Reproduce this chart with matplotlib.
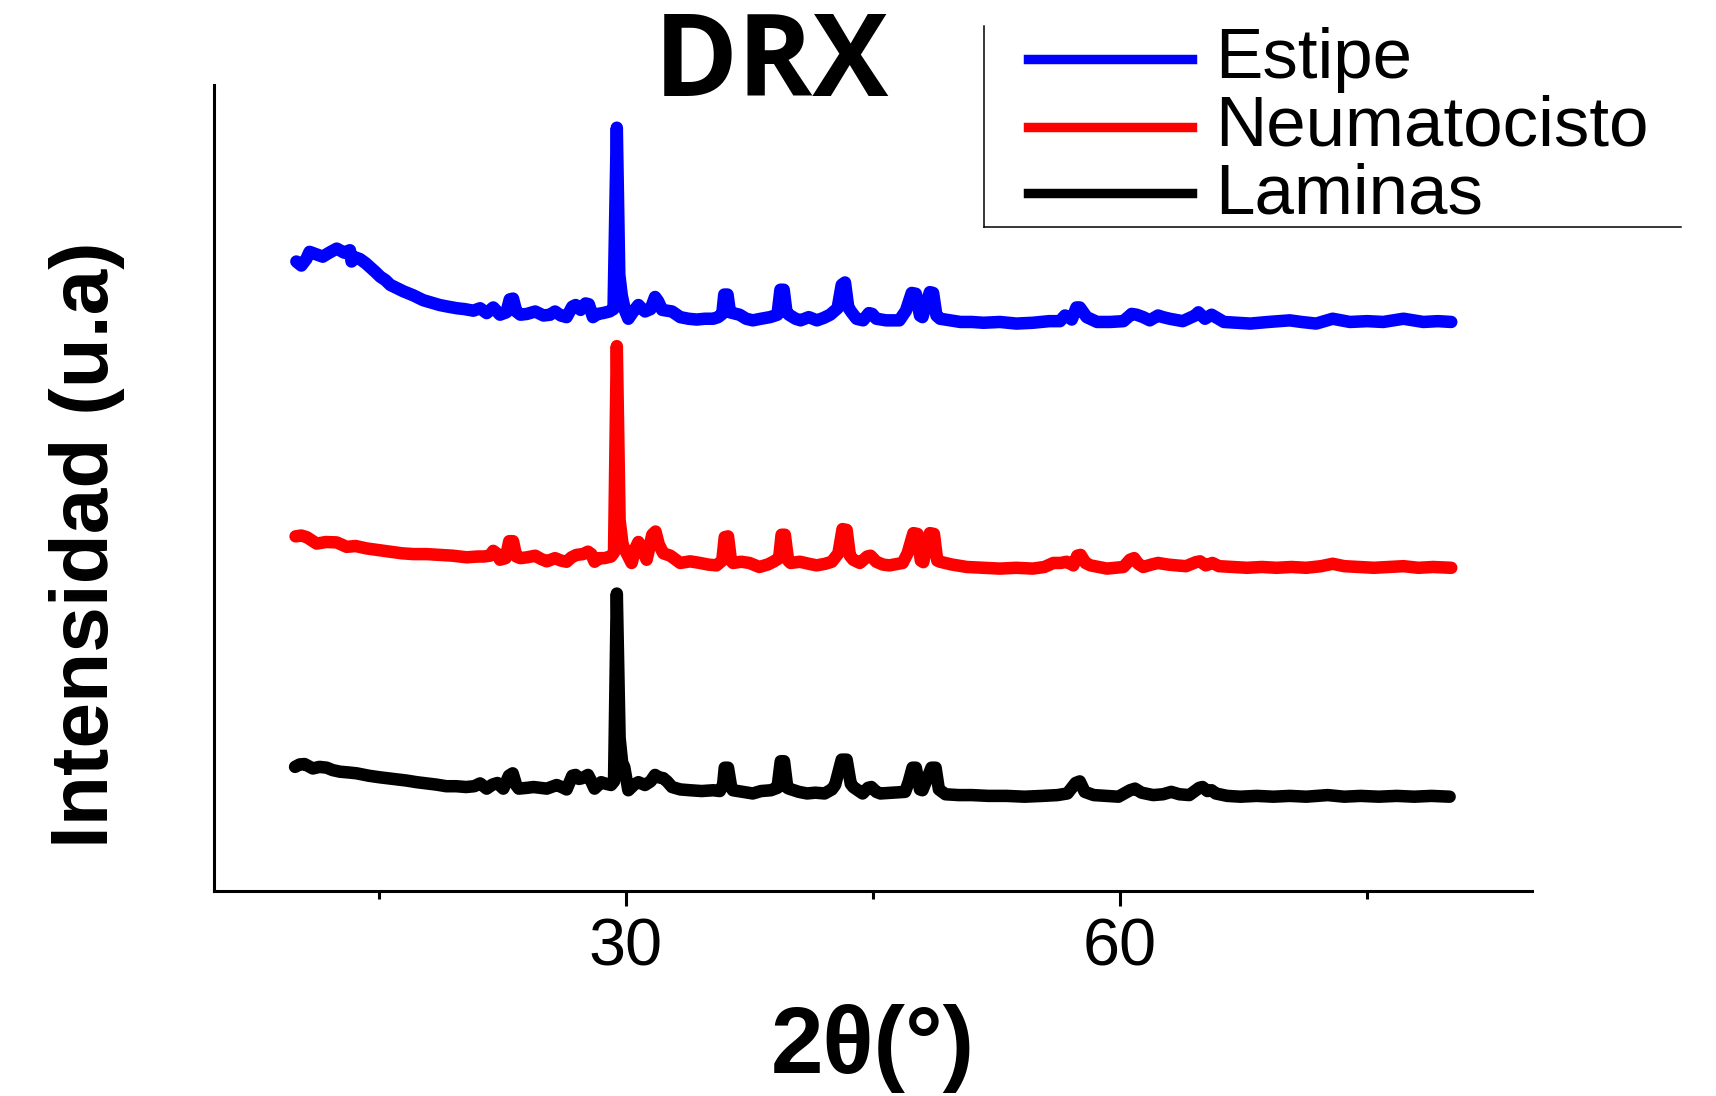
import matplotlib
matplotlib.use("Agg")
import matplotlib.pyplot as plt
from matplotlib.lines import Line2D

plt.rcParams['font.family'] = ['Liberation Sans', 'DejaVu Sans']

title = "DRX"
x_label = "2θ(°)"
y_label = "Intensidad (u.a)"
labels = ["Estipe", "Neumatocisto", "Laminas"]
colors = ["#0000ff", "#ff0000", "#000000"]
major_ticks = [30, 60]
minor_ticks = [15, 45, 75]

estipe = [
    (10.0, 78.1), (10.3, 77.6), (10.6, 78.4), (10.8, 79.3), (11.2, 79.0), (11.6, 78.7), (12.0, 79.2),
    (12.45, 79.7), (12.9, 79.2), (13.25, 79.5), (13.35, 78.1), (13.6, 78.6), (13.86, 78.4), (14.2, 77.9),
    (14.47, 77.4), (14.8, 76.8), (15.1, 76.2), (15.4, 75.8), (15.7, 75.2), (16.1, 74.8), (16.5, 74.4),
    (17.1, 73.9), (17.7, 73.3), (18.2, 73.0), (18.7, 72.7), (19.2, 72.5), (19.75, 72.3), (20.2, 72.2),
    (20.74, 72.0), (21.15, 72.3), (21.55, 71.7), (21.95, 72.4), (22.36, 71.5), (22.75, 71.8), (22.95, 73.4),
    (23.15, 73.5), (23.35, 71.9), (23.6, 71.5), (24.0, 71.6), (24.5, 71.9), (25.0, 71.4), (25.4, 71.5),
    (25.7, 71.9), (26.05, 71.4), (26.4, 71.2), (26.75, 72.5), (26.95, 72.7), (27.25, 72.1), (27.55, 72.9),
    (27.75, 72.8), (28.0, 71.2), (28.3, 71.6), (28.6, 71.7), (29.0, 71.9), (29.25, 72.2), (29.45, 94.7),
    (29.6, 76.5), (29.75, 73.9), (29.95, 72.0), (30.15, 71.0), (30.45, 71.9), (30.76, 72.7), (30.95, 72.3),
    (31.16, 71.9), (31.5, 72.2), (31.77, 73.7), (31.95, 73.2), (32.2, 72.1), (32.5, 72.0), (32.8, 71.9),
    (33.3, 71.2), (33.8, 71.0), (34.3, 70.9), (34.8, 71.0), (35.3, 71.0), (35.6, 71.2), (35.85, 71.6),
    (35.97, 74.0), (36.17, 74.0), (36.32, 71.8), (36.5, 71.7), (36.9, 71.5), (37.3, 71.0), (37.7, 70.8),
    (38.2, 71.0), (38.75, 71.2), (39.2, 71.5), (39.38, 74.6), (39.58, 74.6), (39.75, 71.8), (39.9, 71.5),
    (40.3, 71.0), (40.6, 70.8), (41.1, 71.2), (41.6, 70.8), (42.0, 71.1), (42.4, 71.5), (42.85, 72.3),
    (43.1, 75.2), (43.3, 75.5), (43.5, 72.4), (43.7, 71.8), (44.0, 71.0), (44.4, 70.8), (44.75, 71.7),
    (44.95, 71.6), (45.2, 71.0), (45.8, 70.8), (46.6, 70.8), (47.0, 72.0), (47.35, 74.2), (47.6, 74.1),
    (47.85, 71.4), (48.0, 71.2), (48.45, 74.3), (48.65, 74.2), (48.85, 71.4), (49.07, 71.0), (49.7, 70.8),
    (50.3, 70.6), (51.0, 70.6), (51.7, 70.5), (52.7, 70.6), (53.7, 70.4), (54.7, 70.5), (55.7, 70.7),
    (56.35, 70.7), (56.65, 71.4), (56.9, 71.2), (57.06, 70.9), (57.35, 72.4), (57.55, 72.4), (57.97, 71.2),
    (58.6, 70.6), (59.4, 70.6), (60.2, 70.7), (60.7, 71.6), (61.0, 71.5), (61.4, 71.2), (61.8, 70.8),
    (62.3, 71.4), (62.6, 71.2), (63.0, 71.0), (63.8, 70.7), (64.55, 71.4), (64.75, 71.8), (65.15, 71.0),
    (65.55, 71.5), (65.8, 71.2), (66.3, 70.6), (67.1, 70.5), (67.9, 70.4), (69.0, 70.6), (70.3, 70.8),
    (71.0, 70.6), (71.9, 70.4), (72.9, 71.0), (73.95, 70.6), (75.0, 70.7), (75.97, 70.6), (77.2, 71.0),
    (78.4, 70.6), (79.3, 70.7), (80.1, 70.6),
]

neumatocisto = [
    (9.95, 44.0), (10.3, 44.1), (10.63, 43.9), (11.0, 43.4), (11.23, 43.1), (11.8, 43.3), (12.45, 43.25),
    (13.05, 42.7), (13.6, 42.8), (14.27, 42.5), (15.0, 42.3), (15.68, 42.1), (16.4, 41.9), (17.1, 41.8),
    (17.9, 41.8), (18.7, 41.7), (19.5, 41.6), (20.34, 41.4), (21.0, 41.5), (21.35, 41.5), (21.75, 41.6),
    (21.95, 42.2), (22.15, 41.9), (22.36, 41.1), (22.7, 41.3), (22.92, 43.4), (23.15, 43.4), (23.35, 41.5),
    (23.6, 41.3), (24.0, 41.4), (24.5, 41.6), (24.85, 41.2), (25.2, 40.9), (25.7, 41.3), (26.05, 41.0),
    (26.4, 40.85), (26.7, 41.4), (27.0, 41.7), (27.4, 41.8), (27.7, 42.1), (27.9, 41.8), (28.1, 40.85),
    (28.4, 41.3), (28.7, 41.3), (29.1, 41.5), (29.28, 42.0), (29.45, 67.6), (29.62, 46.0), (29.8, 43.0),
    (29.95, 42.3), (30.35, 40.7), (30.6, 42.6), (30.76, 43.3), (30.95, 42.6), (31.26, 41.1), (31.6, 44.2),
    (31.8, 44.6), (32.0, 43.0), (32.27, 41.9), (32.7, 41.6), (33.3, 40.7), (33.9, 40.9), (34.5, 40.7),
    (35.0, 40.5), (35.5, 40.4), (35.85, 41.0), (36.0, 43.9), (36.2, 44.0), (36.38, 41.0), (36.5, 40.7),
    (37.0, 40.85), (37.5, 40.7), (38.1, 40.2), (38.6, 40.5), (38.95, 40.85), (39.3, 41.3), (39.45, 44.2),
    (39.65, 44.2), (39.85, 41.0), (40.0, 40.7), (40.57, 40.85), (41.1, 40.6), (41.58, 40.4), (42.1, 40.6),
    (42.5, 40.85), (42.9, 41.9), (43.15, 44.9), (43.4, 44.8), (43.6, 41.6), (43.8, 41.1), (44.2, 40.7),
    (44.65, 41.5), (44.85, 41.6), (45.2, 40.85), (45.6, 40.5), (46.0, 40.4), (46.8, 40.7), (47.1, 41.9),
    (47.45, 44.4), (47.7, 44.3), (47.9, 41.0), (48.05, 40.8), (48.45, 44.4), (48.7, 44.3), (48.9, 41.0),
    (49.07, 40.85), (49.8, 40.5), (50.7, 40.2), (51.7, 40.1), (52.7, 40.0), (53.7, 40.1), (54.7, 40.0),
    (55.4, 40.2), (55.95, 40.7), (56.4, 40.7), (56.76, 40.85), (57.16, 40.4), (57.4, 41.6), (57.6, 41.7),
    (57.9, 40.7), (58.2, 40.4), (58.7, 40.2), (59.2, 40.0), (60.2, 40.2), (60.6, 41.1), (60.85, 41.3),
    (61.1, 40.6), (61.4, 40.2), (61.9, 40.5), (62.3, 40.7), (62.9, 40.5), (63.4, 40.4), (64.0, 40.3),
    (64.6, 40.8), (64.85, 40.9), (65.2, 40.4), (65.6, 40.7), (66.0, 40.3), (66.8, 40.2), (67.7, 40.1),
    (68.6, 40.2), (69.5, 40.1), (70.4, 40.2), (71.3, 40.1), (72.2, 40.3), (72.9, 40.6), (73.6, 40.3),
    (74.5, 40.2), (75.4, 40.1), (76.3, 40.2), (77.2, 40.3), (78.1, 40.1), (79.0, 40.2), (80.1, 40.1),
]

laminas = [
    (9.92, 15.4), (10.2, 15.7), (10.5, 15.75), (11.0, 15.2), (11.4, 15.4), (11.84, 15.3), (12.2, 15.0),
    (12.65, 14.8), (13.2, 14.7), (13.66, 14.6), (14.4, 14.3), (15.08, 14.1), (15.9, 13.9), (16.7, 13.7),
    (17.3, 13.5), (17.9, 13.35), (18.5, 13.2), (19.1, 13.0), (19.7, 13.0), (20.3, 12.9), (20.8, 13.0),
    (21.15, 13.35), (21.55, 12.7), (21.9, 13.2), (22.2, 13.4), (22.56, 12.7), (22.9, 14.3), (23.13, 14.6),
    (23.35, 13.1), (23.5, 12.7), (24.0, 12.8), (24.4, 12.9), (24.8, 12.8), (25.2, 12.7), (25.8, 13.15),
    (26.1, 12.9), (26.4, 12.6), (26.75, 14.3), (26.95, 14.4), (27.15, 13.9), (27.35, 14.0), (27.7, 14.4),
    (27.9, 13.6), (28.1, 12.7), (28.5, 13.5), (28.8, 13.3), (29.1, 13.15), (29.28, 13.6), (29.45, 36.9),
    (29.62, 19.0), (29.78, 15.8), (29.9, 15.4), (30.15, 12.5), (30.5, 13.2), (30.76, 13.5), (31.16, 13.15),
    (31.5, 13.6), (31.77, 14.4), (32.0, 14.1), (32.27, 14.0), (32.5, 13.6), (32.8, 12.9), (33.3, 12.6),
    (33.9, 12.5), (34.6, 12.4), (35.3, 12.5), (35.7, 12.4), (35.9, 13.2), (36.0, 15.3), (36.2, 15.3),
    (36.4, 12.8), (36.5, 12.5), (37.1, 12.3), (37.7, 12.1), (38.2, 12.4), (38.8, 12.5), (39.2, 12.8),
    (39.4, 16.1), (39.6, 16.1), (39.8, 12.8), (39.9, 12.7), (40.5, 12.3), (41.0, 12.1), (41.5, 12.2),
    (42.06, 12.1), (42.5, 12.6), (42.7, 13.15), (43.1, 16.3), (43.4, 16.3), (43.65, 13.3), (43.8, 12.9),
    (44.37, 12.1), (44.7, 12.8), (44.9, 12.9), (45.2, 12.3), (45.45, 12.1), (46.2, 12.2), (46.95, 12.3),
    (47.16, 13.5), (47.4, 15.3), (47.6, 15.3), (47.85, 12.6), (48.0, 12.5), (48.55, 15.3), (48.8, 15.3),
    (49.0, 12.6), (49.4, 12.0), (50.2, 11.9), (51.0, 11.9), (52.0, 11.8), (53.1, 11.8), (54.2, 11.7),
    (55.3, 11.8), (56.2, 11.9), (56.8, 12.1), (57.3, 13.4), (57.55, 13.6), (57.85, 12.3), (58.4, 11.9),
    (59.2, 11.8), (59.9, 11.7), (60.6, 12.5), (60.9, 12.7), (61.3, 12.2), (62.0, 11.9), (62.6, 12.0),
    (63.1, 12.3), (63.6, 12.0), (64.2, 11.9), (64.8, 12.8), (65.0, 12.9), (65.3, 12.4), (65.55, 12.5),
    (65.8, 12.1), (66.5, 11.8), (67.3, 11.7), (68.3, 11.8), (69.3, 11.7), (70.3, 11.8), (71.3, 11.7),
    (72.6, 11.9), (73.6, 11.7), (74.6, 11.8), (75.7, 11.7), (76.8, 11.8), (77.85, 11.7), (78.9, 11.8),
    (80.0, 11.7),
]

series = [estipe, neumatocisto, laminas]

W, H = 1716, 1096
fig = plt.figure(figsize=(W / 100, H / 100), dpi=100)
ax = fig.add_axes([214 / W, 1 - 891 / H, (1532 - 214) / W, (891 - 85) / H])

lw = 9.0
for data, col, lab in zip(series, colors, labels):
    xs = [p[0] for p in data]
    ys = [p[1] for p in data]
    ax.plot(xs, ys, color=col, lw=lw, label=lab,
            solid_joinstyle='round', solid_capstyle='round')

ax.set_xlim(5, 85)
ax.set_ylim(0, 100)
for s in ['top', 'right']:
    ax.spines[s].set_visible(False)
for s in ['left', 'bottom']:
    ax.spines[s].set_linewidth(2.2)
ax.set_yticks([])
ax.set_xticks(major_ticks)
ax.set_xticks(minor_ticks, minor=True)
ax.tick_params(axis='x', which='major', length=10.8, width=2.2, labelsize=48,
               pad=8, direction='out')
ax.tick_params(axis='x', which='minor', length=5.4, width=2.2, direction='out')

# title
fig.text(771 / W, 1 - 96 / H, title, family=['Open Sans', 'DejaVu Sans'],
         fontweight='bold', fontsize=82, ha='center', va='baseline')
# axis labels
fig.text(873 / W, 1 - 1073 / H, x_label, fontweight='bold', fontsize=68,
         ha='center', va='baseline')
fig.text(108 / W, 1 - 544.5 / H, y_label, fontweight='bold', fontsize=59,
         rotation=90, rotation_mode='anchor', ha='center', va='baseline')

# legend (drawn by hand to match the clipped frame)
line_ys = [58.7, 126.7, 193.0]
base_ys = [78.0, 146.0, 213.0]
for lab, col, ly, by in zip(labels, colors, line_ys, base_ys):
    fig.add_artist(Line2D([1028 / W, 1192 / W], [1 - ly / H, 1 - ly / H],
                          color=col, lw=6.8, transform=fig.transFigure))
    fig.text(1215 / W, 1 - by / H, lab, fontsize=51, ha='left', va='baseline')
fig.add_artist(Line2D([984 / W, 984 / W], [1 - 26 / H, 1 - 226.5 / H],
                      color='black', lw=1.1, transform=fig.transFigure))
fig.add_artist(Line2D([984 / W, 1681 / W], [1 - 226.5 / H, 1 - 226.5 / H],
                      color='black', lw=1.1, transform=fig.transFigure))

fig.savefig("out.png", dpi=100)
